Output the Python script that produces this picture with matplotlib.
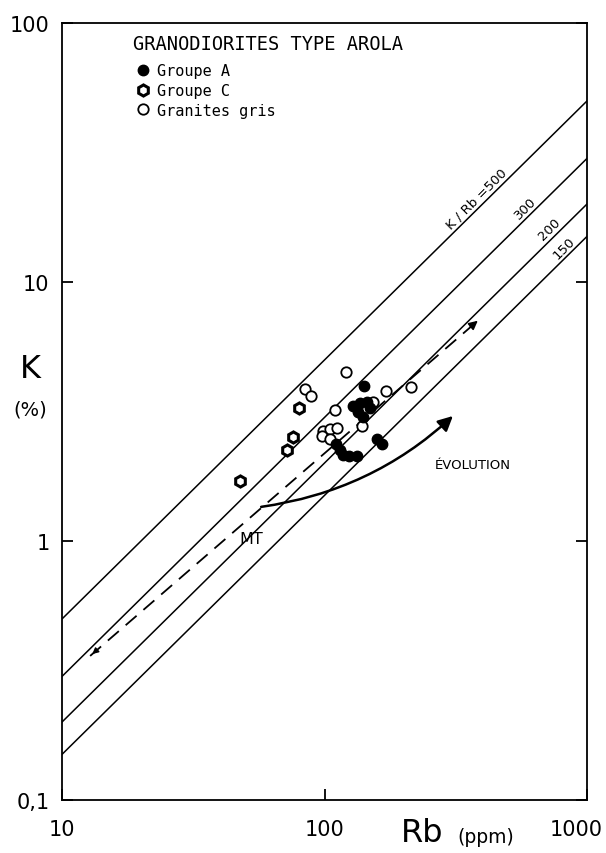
import matplotlib
matplotlib.use('Agg')
import matplotlib.pyplot as plt
from matplotlib.transforms import ScaledTranslation

# K/Rb reference lines
ratios = [500, 300, 200, 150]
ratio_labels = ['K / Rb =500', '300', '200', '150']
ratio_label_rb = [400, 615, 760, 860]
rb_range = [10, 1000]

# Groupe A (filled dots)
grpA_rb = [141, 128, 136, 145, 134, 140, 149, 158, 165, 111, 115, 118, 124, 133]
grpA_k = [3.98, 3.32, 3.41, 3.45, 3.15, 3.01, 3.26, 2.48, 2.37, 2.37, 2.25, 2.15, 2.13, 2.13]

# Groupe C (thick hexagons)
grpC_rb = [47.6, 71.8, 75.7, 80.0]
grpC_k = [1.71, 2.25, 2.53, 3.25]

# Granites gris (open circles)
gris_rb = [84, 89, 121, 110, 171, 213, 153, 139, 99, 105, 112, 97.5, 105]
gris_k = [3.86, 3.62, 4.49, 3.20, 3.80, 3.92, 3.45, 2.79, 2.67, 2.71, 2.72, 2.54, 2.48]

# MT trend (dashed) and evolution arrow
mt_rb = [12.8, 391]
mt_k = [0.36, 7.2]
evo_start = (56, 1.35)
evo_end = (314, 3.09)

mono = 'DejaVu Sans Mono'

fig = plt.figure(figsize=(6.06, 8.54), dpi=100)
ax = fig.add_axes([62/606, 1 - 801/854, 525/606, 777/854])
ax.set_xscale('log')
ax.set_yscale('log')
ax.set_xlim(10, 1000)
ax.set_ylim(0.1, 100)

for r, lab, lrb in zip(ratios, ratio_labels, ratio_label_rb):
    ax.plot(rb_range, [v * r / 1e4 for v in rb_range], color='black', lw=1.1, zorder=1)
    ax.annotate(lab, xy=(lrb, lrb * r / 1e4), xytext=(-1, 1), textcoords='offset points',
                rotation=45, rotation_mode='anchor', ha='center', va='bottom', fontsize=9.5)

# MT dashed trend with arrow heads
ax.plot(mt_rb, mt_k, color='black', lw=1.3, dashes=(8, 5), zorder=1)
ax.annotate('', xy=(mt_rb[1], mt_k[1]), xytext=(mt_rb[1] * 0.9, mt_k[1] * 0.915),
            arrowprops=dict(arrowstyle='-|>', color='black', lw=1.2, mutation_scale=13))
ax.annotate('', xy=(mt_rb[0], mt_k[0]), xytext=(mt_rb[0] * 1.08, mt_k[0] * 1.07),
            arrowprops=dict(arrowstyle='-|>', color='black', lw=1.0, mutation_scale=9))
ax.text(52.5, 1.02, 'MT', fontsize=11.5, ha='center', va='center')

ax.annotate('', xy=evo_end, xytext=evo_start,
            arrowprops=dict(arrowstyle='-|>', color='black', lw=1.8, mutation_scale=22,
                            connectionstyle='arc3,rad=0.16'))
ax.text(368, 1.98, 'ÉVOLUTION', fontsize=9.5, ha='center', va='center')

ax.plot(gris_rb, gris_k, 'o', ms=7.5, mfc='white', mec='black', mew=1.3, ls='none',
        zorder=3, label='Granites gris')
ax.plot(grpC_rb, grpC_k, 'h', ms=8, mfc='white', mec='black', mew=2.2, ls='none',
        zorder=3, label='Groupe C')
ax.plot(grpA_rb, grpA_k, 'o', ms=7.5, mfc='black', mec='black', ls='none',
        zorder=4, label='Groupe A')

# legend: title as separate text, entries indented
ax.text(0.135, 0.974, 'GRANODIORITES TYPE AROLA', transform=ax.transAxes,
        fontsize=13.5, family=mono, ha='left', va='center')
h, l = ax.get_legend_handles_labels()
order = [2, 1, 0]
ax.legend([h[i] for i in order], [l[i] for i in order], loc='upper left',
          bbox_to_anchor=(0.146, 0.948), frameon=False, prop={'family': mono, 'size': 11},
          handlelength=0.6, handletextpad=0.6, labelspacing=0.3,
          borderaxespad=0, borderpad=0)

ax.set_xticks([10, 100, 1000])
ax.set_xticklabels(['10', '100', '1000'], fontsize=15)
ax.set_yticks([0.1, 1, 10, 100])
ax.set_yticklabels(['0,1', '1', '10', '100'], fontsize=15)
ax.minorticks_off()
ax.tick_params(direction='in', length=8, width=1.3, top=False, right=True, pad=9)
ax.tick_params(axis='x', pad=14)
last = ax.get_xticklabels()[-1]
last.set_transform(last.get_transform() + ScaledTranslation(-8/72, 0, fig.dpi_scale_trans))
for s in ax.spines.values():
    s.set_linewidth(1.3)

fig.text(30/606, 1 - 370/854, 'K', fontsize=23, ha='center', va='center')
fig.text(30/606, 1 - 410/854, '(%)', fontsize=14, ha='center', va='center')
fig.text(422/606, 1 - 834/854, 'Rb', fontsize=23, ha='center', va='center')
fig.text(486/606, 1 - 838/854, '(ppm)', fontsize=13.5, ha='center', va='center')

fig.savefig('out.png', dpi=100)
